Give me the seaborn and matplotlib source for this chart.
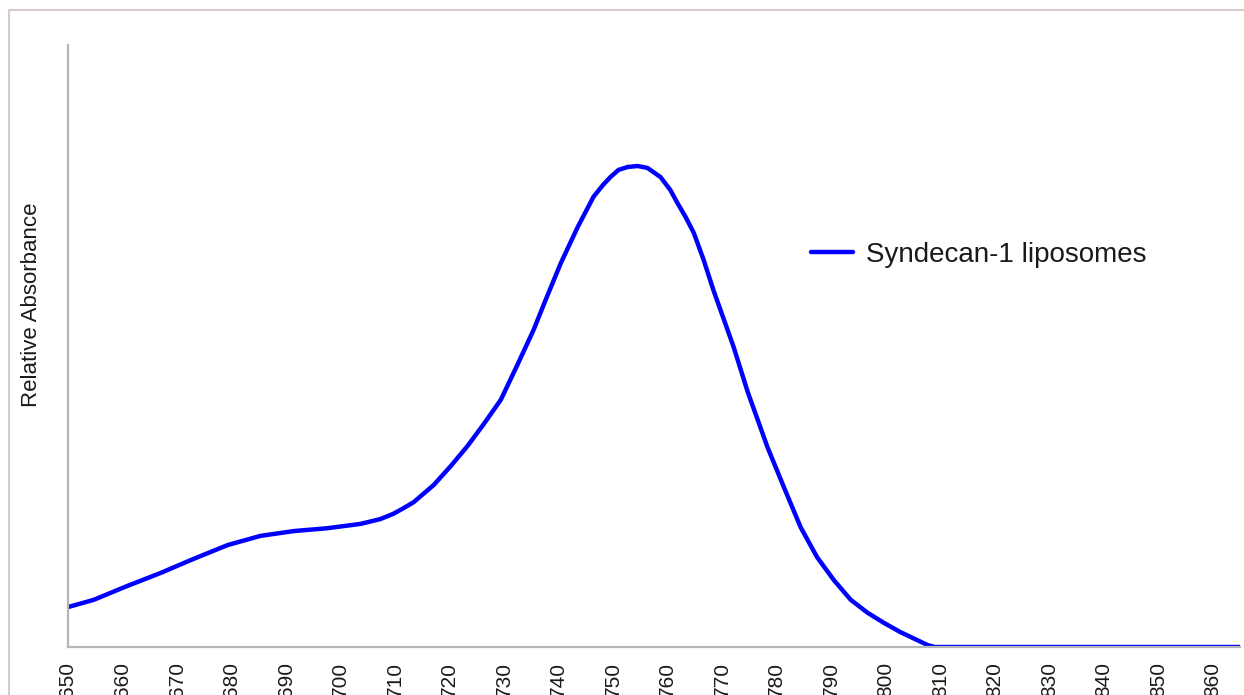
import matplotlib

matplotlib.use("Agg")
import matplotlib.pyplot as plt
from matplotlib.lines import Line2D
import pandas as pd
import seaborn as sns

# wavelength (nm) and relative absorbance (peak normalised to 1)
wavelength = [650, 654.7, 660.9, 667.0, 673.0, 679.3, 685.3, 691.4, 697.6, 703.7,
              707.3, 709.7, 711.6, 713.4, 717.1, 720.2, 723.3, 726.3, 729.4, 732.5,
              735.4, 737.6, 740.4, 743.5, 746.4, 748.1, 749.5, 751.0, 752.7, 754.5,
              756.3, 758.7, 760.5, 761.8, 763.3, 764.8, 766.6, 768.4, 772.1, 774.7,
              778.3, 781.3, 784.4, 787.4, 790.5, 793.6, 796.7, 799.7, 802.7, 807.7,
              809.0, 865]
absorbance = [0.083, 0.098, 0.127, 0.154, 0.183, 0.212, 0.231, 0.241, 0.247, 0.256,
              0.266, 0.277, 0.289, 0.301, 0.337, 0.376, 0.418, 0.464, 0.514, 0.588,
              0.659, 0.721, 0.798, 0.873, 0.936, 0.960, 0.977, 0.992, 0.998, 1.000,
              0.996, 0.977, 0.950, 0.923, 0.894, 0.861, 0.805, 0.742, 0.624, 0.530,
              0.416, 0.333, 0.249, 0.187, 0.139, 0.098, 0.071, 0.050, 0.031, 0.004,
              0.0, 0.0]
x_ticks = list(range(650, 861, 10))
series_name = "Syndecan-1 liposomes"

df = pd.DataFrame({"wavelength": wavelength, "absorbance": absorbance, "sample": series_name})

sns.set_style("white")
plt.rcParams["font.family"] = ["Liberation Sans", "DejaVu Sans"]
plt.rcParams["lines.solid_joinstyle"] = "round"

fig = plt.figure(figsize=(12.44, 6.95), dpi=100)
ax = fig.add_axes([68 / 1244, 48 / 695, 1172 / 1244, 602 / 695])

sns.lineplot(data=df, x="wavelength", y="absorbance", hue="sample",
             palette=["#0000ff"], linewidth=3.2, ax=ax)

ax.set_xlim(650, 865)
ax.set_ylim(0, 1.2516)
ax.set_yticks([])
ax.set_xticks(x_ticks)
ax.set_xticklabels([str(t) for t in x_ticks], rotation=90, fontsize=15, va="top")
ax.tick_params(axis="x", length=0, pad=11, colors="#1a1a1a")
ax.set_xlabel("")
ax.set_ylabel("Relative Absorbance", fontsize=16, color="#1a1a1a", labelpad=0)
ax.yaxis.set_label_coords(-26 / 1172, (647 - 305) / 602)

for side in ["top", "right"]:
    ax.spines[side].set_visible(False)
for side in ["left", "bottom"]:
    ax.spines[side].set_color("#b5b5b5")
    ax.spines[side].set_linewidth(1.6)

leg = ax.legend(loc="center left", bbox_to_anchor=(0.634, 0.651), frameon=False,
                fontsize=20, handlelength=1.5, handletextpad=0.47,
                borderpad=0, borderaxespad=0)
for t in leg.get_texts():
    t.set_color("#1a1a1a")

# outer picture border (top and left edges)
fig.add_artist(Line2D([9 / 1244, 1], [1 - 10 / 695, 1 - 10 / 695],
                      color="#d6caca", lw=1.5, transform=fig.transFigure))
fig.add_artist(Line2D([9 / 1244, 9 / 1244], [0, 1 - 10 / 695],
                      color="#d6caca", lw=1.5, transform=fig.transFigure))

fig.savefig("out.png", dpi=100)
